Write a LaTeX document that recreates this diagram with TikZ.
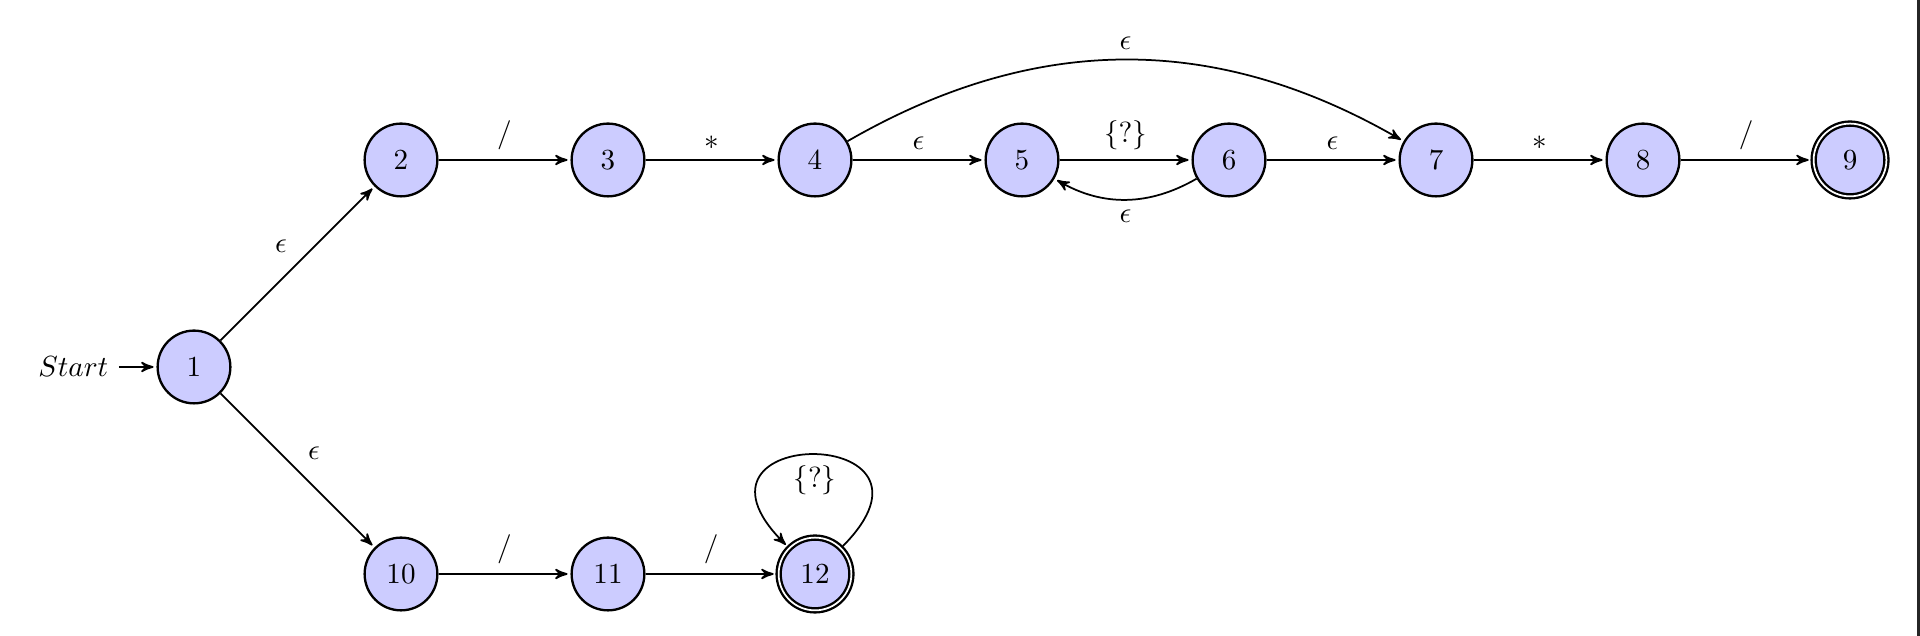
\documentclass[tikz,border=0pt]{standalone}
\usepackage{amsmath}
\usepackage{amsfonts}
\usetikzlibrary{automata,arrows}

\begin{document}
\begin{tikzpicture}[>=stealth', shorten >=1pt, auto, semithick]
    \tikzstyle{every state}=[
        draw = black,
        thick,
        fill = blue!20,
        minimum size = 2.5em,
        circle
    ]

    \useasboundingbox (-2.343, -3.249) rectangle (20.845, 4.432);

	\node[state, initial, initial text=$Start$] (q1) at (0, 0) {1};
	\node[state]            (q2)  at (2.5, 2.5)   {2};
	\node[state]            (q3)  at (5, 2.5)     {3};
	\node[state]            (q4)  at (7.5, 2.5)   {4};
	\node[state]            (q5)  at (10, 2.5)    {5};
	\node[state]            (q6)  at (12.5, 2.5)  {6};
	\node[state]            (q7)  at (15, 2.5)    {7};
	\node[state]            (q8)  at (17.5, 2.5)  {8};
	\node[state, accepting] (q9)  at (20, 2.5)    {9};
	\node[state]            (q10) at (2.5, -2.5)  {10};
	\node[state]            (q11) at (5, -2.5)    {11};
	\node[state, accepting] (q12) at (7.5, -2.5)  {12};

	\path[->] (q1) edge node{$\epsilon$} (q2);
	\path[->] (q1) edge node{$\epsilon$} (q10);
	\path[->] (q2) edge node{$/$} (q3);
	\path[->] (q3) edge node{$*$} (q4);
	\path[->] (q4) edge node{$\epsilon$} (q5);
	\path[->] (q4) edge [bend left=30] node{$\epsilon$} (q7);
	\path[->] (q5) edge node{$\{?\}$} (q6);
	\path[->] (q6) edge [bend left] node{$\epsilon$} (q5);
	\path[->] (q6) edge node{$\epsilon$} (q7);
	\path[->] (q7) edge node{$*$} (q8);
	\path[->] (q8) edge node{$/$} (q9);
	\path[->] (q10) edge node{$/$} (q11);
	\path[->] (q11) edge node{$/$} (q12);
	\path[->] (q12) edge [out=45, in=135, min distance=2.1cm] node{$\{?\}$} (q12);

	\fill[black!85] (20.809, -3.249) rectangle (20.845, 4.432);

	\end{tikzpicture}
\end{document}
